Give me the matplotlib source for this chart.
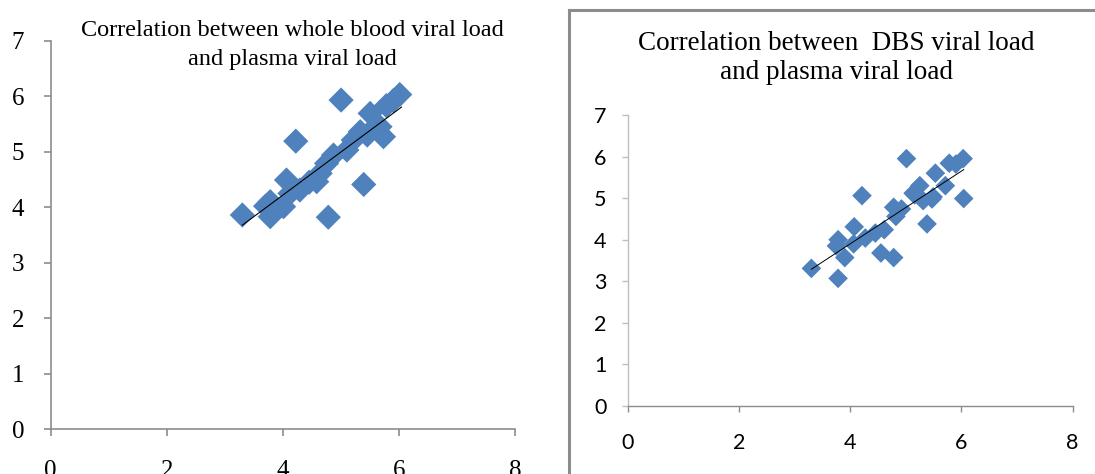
import numpy as np
import matplotlib.pyplot as plt
from matplotlib.lines import Line2D

# whole blood vs plasma (log viral load)
wb_x = [3.30, 3.70, 3.78, 3.78, 4.01, 4.06, 4.12, 4.22, 4.29, 4.45, 4.58, 4.64, 4.75, 4.78,
        4.87, 5.00, 5.10, 5.21, 5.33, 5.39, 5.45, 5.50, 5.59, 5.67, 5.73, 5.78, 5.90, 6.01]
wb_y = [3.86, 4.02, 4.10, 3.83, 4.01, 4.49, 4.25, 5.19, 4.31, 4.45, 4.46, 4.61, 4.79, 3.82,
        4.94, 5.93, 5.03, 5.21, 5.36, 4.41, 5.30, 5.69, 5.45, 5.45, 5.27, 5.83, 5.92, 6.03]

# DBS vs plasma
dbs_x = [3.30, 3.78, 3.75, 3.78, 3.90, 4.06, 4.07, 4.21, 4.27, 4.45, 4.55, 4.61, 4.78, 4.78, 4.82,
         4.92, 5.01, 5.13, 5.16, 5.25, 5.31, 5.38, 5.47, 5.49, 5.53, 5.71, 5.78, 5.90, 6.03, 6.04]
dbs_y = [3.31, 3.07, 3.85, 4.00, 3.57, 3.90, 4.31, 5.06, 4.04, 4.16, 3.68, 4.24, 3.57, 4.78, 4.56,
         4.74, 5.95, 5.12, 5.08, 5.30, 4.94, 4.38, 4.98, 5.03, 5.60, 5.30, 5.84, 5.82, 5.95, 4.99]

xticks = [0, 2, 4, 6, 8]
yticks = [0, 1, 2, 3, 4, 5, 6, 7]

blue = "#4F81BD"

fig = plt.figure(figsize=(10.95, 4.74), dpi=100)

# left chart
ax1 = fig.add_axes([0.0463, 0.0943, 0.4243, 0.8199])
ax1.scatter(wb_x, wb_y, marker="D", s=165, color=blue, edgecolors="none", zorder=2)
m, b = np.polyfit(wb_x, wb_y, 1)
xl = np.array([min(wb_x), max(wb_x) + 0.03])
ax1.plot(xl, m * xl + b, color="black", lw=0.8, zorder=3)
ax1.set_xlim(0, 8)
ax1.set_ylim(0, 7)
ax1.set_xticks(xticks)
ax1.set_yticks(yticks)
for s in ["top", "right"]:
    ax1.spines[s].set_visible(False)
for s in ["left", "bottom"]:
    ax1.spines[s].set_color("#8c8c8c")
    ax1.spines[s].set_linewidth(1.2)
ax1.tick_params(axis="both", color="#8c8c8c", length=5, width=1.2, labelsize=18)
ax1.tick_params(axis="y", pad=14)
ax1.tick_params(axis="x", pad=17)
for lab in ax1.get_xticklabels() + ax1.get_yticklabels():
    lab.set_fontfamily("Liberation Serif")

fig.text(0.267, 0.935, "Correlation between whole blood viral load", ha="center", va="center",
         fontsize=17.5, family="Liberation Serif")
fig.text(0.267, 0.875, "and plasma viral load", ha="center", va="center",
         fontsize=17.5, family="Liberation Serif")

# right chart
ax2 = fig.add_axes([0.5735, 0.1435, 0.4061, 0.6139])
ax2.scatter(dbs_x, dbs_y, marker="D", s=100, color=blue, edgecolors="none", zorder=2)
m2, b2 = np.polyfit(dbs_x, dbs_y, 1)
xr = np.array([min(dbs_x), max(dbs_x)])
ax2.plot(xr, m2 * xr + b2, color="black", lw=0.7, zorder=3)
ax2.set_xlim(0, 8)
ax2.set_ylim(0, 7)
ax2.set_xticks(xticks)
ax2.set_yticks(yticks)
for s in ["top", "right"]:
    ax2.spines[s].set_visible(False)
ax2.spines["left"].set_color("#bfbfbf")
ax2.spines["bottom"].set_color("#8c8c8c")
ax2.spines["left"].set_linewidth(1.0)
ax2.spines["bottom"].set_linewidth(1.0)
ax2.tick_params(axis="y", color="#bfbfbf", length=4.5, width=1.0, labelsize=15.5, pad=11)
ax2.tick_params(axis="x", color="#8c8c8c", length=4.5, width=1.0, labelsize=15.5, pad=15)
for lab in ax2.get_xticklabels() + ax2.get_yticklabels():
    lab.set_fontfamily("Lato")

fig.text(0.764, 0.909, "Correlation between  DBS viral load", ha="center", va="center",
         fontsize=19.5, family="Liberation Serif")
fig.text(0.764, 0.847, "and plasma viral load", ha="center", va="center",
         fontsize=19.5, family="Liberation Serif")

# frame around right chart
fig.add_artist(Line2D([0.5196, 0.5196], [0.0, 0.9789], color="#8c8c8c", lw=2.2))
fig.add_artist(Line2D([0.5196, 1.0], [0.9789, 0.9789], color="#8c8c8c", lw=2.2))

fig.savefig("out.png", dpi=100)
